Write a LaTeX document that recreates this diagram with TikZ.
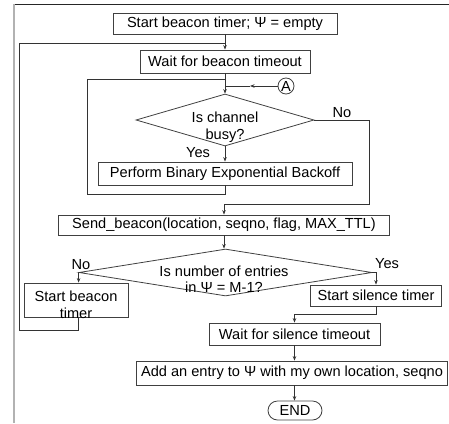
\documentclass[tikz,border=0pt]{standalone}
\usepackage{fontspec}
\setmainfont{Liberation Sans}
\usetikzlibrary{shapes.geometric,arrows.meta}
\begin{document}
\begin{tikzpicture}[x=1pt,y=-1pt,
  font=\fontsize{14.6}{16.5}\selectfont,
  ln/.style={draw=black!80, line width=0.8pt},
  box/.style={draw=black!75, line width=0.8pt, rectangle, inner sep=0pt, align=center},
  dia/.style={draw=black!75, line width=0.8pt, diamond, inner sep=0pt},
  lbl/.style={inner sep=0pt, align=center},
  arr/.style={ln, -{Stealth[length=4.5pt,width=3.5pt]}}]
\useasboundingbox (0,0) rectangle (449,423);
% frame
\draw[black!85, line width=1pt] (14,4) -- (449,4);
\draw[black!30, line width=2pt] (13.5,4) -- (13.5,423);
% nodes
\node[box, minimum width=224pt, minimum height=21pt] (b1) at (225,23.5) {Start beacon timer; Ψ = empty};
\node[box, minimum width=170pt, minimum height=23pt] (b2) at (225,61.5) {Wait for beacon timeout};
\coordinate (j1) at (225,43);
\coordinate (j2) at (225,79);
\coordinate (ja) at (225,86);
\coordinate (am) at (250,86);
\node[circle, draw=black!75, line width=0.8pt, minimum size=16pt, inner sep=0pt] (A) at (286,86) {A};
\node[dia, minimum width=178pt, minimum height=52pt] (d1) at (225,120) {};
\node[lbl] (t1) at (225,127) {Is channel\\busy?};
\node[lbl] (no1) at (342,113) {No};
\node[lbl] (yes1) at (198,153) {Yes};
\node[box, minimum width=254pt, minimum height=23pt] (b3) at (225,173.5) {Perform Binary Exponential Backoff};
\node[box, minimum width=331pt, minimum height=20pt] (b4) at (224,225) {Send\_beacon(location, seqno, flag, MAX\_TTL)};
\node[dia, minimum width=293pt, minimum height=47pt] (d2) at (225.5,272.5) {};
\node[lbl] (t2) at (224,279) {Is number of entries\\in Ψ = M-1?};
\node[lbl] (no2) at (81,265) {No};
\node[lbl] (yes2) at (387,264) {Yes};
\node[box, minimum width=104pt, minimum height=34pt] (b5) at (76,300) {};
\node[lbl] (t5) at (76,305) {Start beacon\\timer};
\node[box, minimum width=131pt, minimum height=21pt] (b6) at (376,295.5) {Start silence timer};
\node[box, minimum width=171pt, minimum height=22pt] (b7) at (294.5,334) {Wait for silence timeout};
\node[box, minimum width=311pt, minimum height=24pt] (b8) at (292,373) {Add an entry to Ψ with my own location, seqno};
\node[draw=black!75, line width=0.8pt, rounded corners=9.5pt, minimum width=54pt, minimum height=19pt, inner sep=0pt] (end) at (295,410.5) {END};
% connectors
\draw[arr] (b1.south) -- (b2.north);
\draw[arr] (b2.south) -- (d1.north);
\draw[arr] (A.west) -- (am);
\draw[ln] (am) -- (ja);
\draw[arr] (d1.south) -- (b3.north);
\draw[ln] (b3.south) -- ++(0,9) -| (87,79) -- (j2);
\draw[arr] (d1.east) -| (369,204) -| (b4.north);
\draw[arr] (b4.south) -- (b4.south |- d2.north);
\draw[arr] (d2.west) -- (d2.west |- b5.north);
\draw[ln] (d2.west |- b5.south) -- ++(0,13) -| (19,43) -- (j1);
\draw[arr] (d2.east) -| (b6.north);
\draw[arr] (b6.south) -- ++(0,8) -| (b7.north);
\draw[arr] (b7.south) -- (b7.south |- b8.north);
\draw[arr] (b7.south |- b8.south) -- (b7.south |- end.north);
\end{tikzpicture}
\end{document}
